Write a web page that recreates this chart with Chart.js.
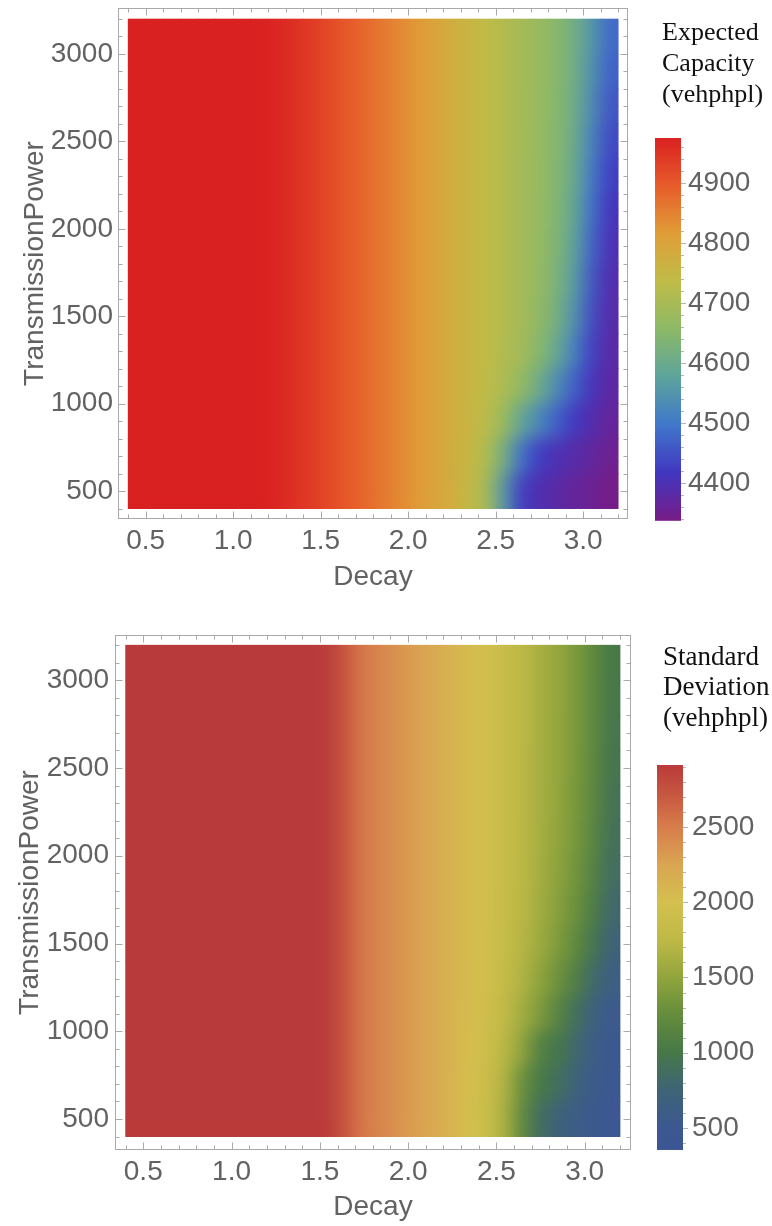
<!DOCTYPE html>
<html><head><meta charset="utf-8">
<script src="https://cdn.jsdelivr.net/npm/chart.js@4.4.1/dist/chart.umd.min.js"></script>
<style>
html,body{margin:0;padding:0;background:#fff;}
#wrap{position:relative;width:772px;height:1226px;background:#fff;}
canvas{position:absolute;left:0;}
#c1{top:0;width:772px;height:600px;}
#c2{top:600px;width:772px;height:626px;}
</style></head><body>
<div id="wrap"><canvas id="c1" width="772" height="600"></canvas><canvas id="c2" width="772" height="626"></canvas></div>
<script>
// ---------------- data ----------------
const decays = [0.45,0.55,0.65,0.75,0.85,0.95,1.05,1.15,1.25,1.35,1.45,1.55,1.65,1.75,1.85,1.95,2.05,2.15,2.25,2.35,2.45,2.55,2.65,2.75,2.85,2.95,3.05,3.15];
const powerEdges = [400,600,800,1000,1200,1400,1600,1800,2000,2200,2400,2600,2800,3000,3200];
const decayTicks = [0.5,1.0,1.5,2.0,2.5,3.0];
const powerTicks = [500,1000,1500,2000,2500,3000];
const capacityTicks = [4400,4500,4600,4700,4800,4900];
const sdTicks = [500,1000,1500,2000,2500];
const capacityRange = [4337,4975];
const sdRange = [354,2912];

// Expected capacity: decay 0.45..2.25 (same for every power row)
const capacityLeft = [4975,4975,4975,4975,4975,4975,4975,4975,4968,4955,4940,4920,4900,4882,4862,4842,4822,4800,4778];
// decay 2.35..3.15, one row per power band (400-600 first)
const capacityRight = [
  [4745,4695,4555,4425,4395,4380,4365,4355,4340],
  [4750,4712,4615,4490,4425,4400,4385,4370,4352],
  [4755,4728,4675,4585,4525,4470,4420,4390,4365],
  [4755,4735,4705,4665,4605,4535,4470,4410,4375],
  [4755,4735,4715,4690,4648,4595,4515,4430,4380],
  [4755,4735,4715,4695,4662,4620,4548,4445,4385],
  [4755,4735,4715,4695,4668,4630,4565,4460,4390],
  [4755,4735,4715,4695,4670,4636,4578,4475,4400],
  [4755,4735,4715,4695,4671,4640,4588,4490,4410],
  [4755,4735,4715,4695,4672,4644,4596,4505,4425],
  [4755,4735,4715,4695,4673,4646,4603,4520,4440],
  [4755,4735,4715,4695,4674,4648,4608,4535,4455],
  [4755,4735,4715,4695,4675,4650,4612,4545,4470],
  [4755,4735,4715,4695,4675,4650,4615,4555,4480]
];
// Standard deviation: decay 0.45..2.25
const sdLeft = [2912,2912,2912,2912,2912,2912,2912,2912,2912,2912,2912,2900,2700,2520,2440,2360,2280,2200,2120];
// decay 2.35..3.15
const sdRight = [
  [2000,1880,1640,1200,860,720,600,530,475],
  [2010,1900,1670,1270,1010,890,700,560,485],
  [2020,1920,1730,1480,1090,990,800,610,500],
  [2030,1940,1790,1590,1390,1150,900,680,540],
  [2035,1950,1825,1665,1485,1300,1090,820,620],
  [2040,1955,1845,1705,1560,1400,1220,960,720],
  [2040,1960,1855,1725,1590,1450,1290,1060,800],
  [2040,1960,1860,1735,1605,1480,1330,1120,860],
  [2040,1960,1860,1740,1612,1500,1355,1160,900],
  [2040,1960,1860,1740,1616,1510,1365,1185,930],
  [2040,1960,1860,1740,1618,1515,1372,1200,955],
  [2040,1960,1860,1740,1620,1518,1376,1210,975],
  [2040,1960,1860,1740,1620,1520,1378,1215,990],
  [2040,1960,1860,1740,1620,1520,1380,1220,1000]
];
const capacityRows = capacityRight.map(r => capacityLeft.concat(r));
const sdRows = sdRight.map(r => sdLeft.concat(r));

// ---------------- colour schemes ----------------
const rainbowStops = [[0,120,28,134],[0.125,65,54,192],[0.25,64,119,203],[0.375,92,163,156],[0.5,140,185,103],[0.625,191,188,71],[0.75,224,158,56],[0.875,231,92,42],[1,217,33,33]];
const darkRainbowStops = [[0,60,85,148],[0.06,60,88,145],[0.155,62,100,118],[0.2525,70,120,72],[0.35,100,140,60],[0.448,145,165,60],[0.546,190,185,70],[0.643,212,192,78],[0.741,218,165,82],[0.839,215,125,75],[0.92,200,88,65],[1,185,58,58]];

function stopColor(stops, t) {
  t = Math.max(0, Math.min(1, t));
  for (let i = 1; i < stops.length; i++) {
    if (t <= stops[i][0]) {
      const a = stops[i-1], b = stops[i], f = (t - a[0]) / (b[0] - a[0]);
      return 'rgb(' + [1,2,3].map(k => Math.round(a[k] + (b[k]-a[k])*f)).join(',') + ')';
    }
  }
  const s = stops[stops.length-1];
  return 'rgb(' + s[1] + ',' + s[2] + ',' + s[3] + ')';
}
function colorFor(stops, range, v) { return stopColor(stops, (v - range[0]) / (range[1] - range[0])); }

// ---------------- plugins ----------------
const TXT = '#626262';
const AX_FONT = {family: "'Liberation Sans', Arial, sans-serif", size: 28};

const smoothPlugin = {
  id: 'smooth',
  afterDatasetsDraw(chart, args, o) {
    if (!o || !o.blur) return;
    const {ctx, scales: {x, y}} = chart;
    const step = decays[1] - decays[0];
    const l = Math.round(x.getPixelForValue(decays[0] - step/2));
    const r = Math.round(x.getPixelForValue(decays[decays.length-1] + step/2));
    const t = Math.round(y.getPixelForValue(powerEdges[powerEdges.length-1]));
    const b = Math.round(y.getPixelForValue(powerEdges[0]));
    const w = r - l, h = b - t, p = o.blur * 3;
    const off = document.createElement('canvas'); off.width = w; off.height = h;
    off.getContext('2d').drawImage(chart.canvas, l, t, w, h, 0, 0, w, h);
    const pc = document.createElement('canvas'); pc.width = w + 2*p; pc.height = h + 2*p;
    const g = pc.getContext('2d'); g.imageSmoothingEnabled = false;
    g.drawImage(off, p, p);
    g.drawImage(off, 0, 0, 1, h, 0, p, p, h);
    g.drawImage(off, w-1, 0, 1, h, p+w, p, p, h);
    g.drawImage(pc, 0, p, w+2*p, 1, 0, 0, w+2*p, p);
    g.drawImage(pc, 0, p+h-1, w+2*p, 1, 0, p+h, w+2*p, p);
    ctx.save();
    ctx.beginPath(); ctx.rect(l, t, w, h); ctx.clip();
    ctx.filter = 'blur(' + o.blur + 'px)';
    ctx.drawImage(pc, l - p, t - p);
    ctx.restore();
  }
};

const framePlugin = {
  id: 'frame',
  afterDraw(chart, args, o) {
    const {ctx, chartArea: a, scales: {x, y, cb}} = chart;
    ctx.save();
    // frame
    ctx.strokeStyle = '#a9a9a9'; ctx.lineWidth = 1;
    const L = Math.round(a.left) + 0.5, R = Math.round(a.right) - 0.5, T = Math.round(a.top) + 0.5, B = Math.round(a.bottom) - 0.5;
    ctx.strokeRect(L, T, R - L, B - T);
    ctx.beginPath();
    for (let i = 4; i <= 32; i++) {
      const v = i / 10, major = i % 5 === 0, len = major ? 7 : 4;
      const px = Math.round(x.getPixelForValue(v)) + 0.5;
      ctx.moveTo(px, B); ctx.lineTo(px, B - len);
      ctx.moveTo(px, T); ctx.lineTo(px, T + len);
    }
    for (let v = 400; v <= 3200; v += 100) {
      const major = v % 500 === 0, len = major ? 7 : 4;
      const py = Math.round(y.getPixelForValue(v)) + 0.5;
      ctx.moveTo(L, py); ctx.lineTo(L + len, py);
      ctx.moveTo(R, py); ctx.lineTo(R - len, py);
    }
    ctx.stroke();
    // colour bar
    const yLo = cb.getPixelForValue(o.range[0]), yHi = cb.getPixelForValue(o.range[1]);
    const grad = ctx.createLinearGradient(0, yLo, 0, yHi);
    o.stops.forEach(s => grad.addColorStop(s[0], 'rgb(' + s[1] + ',' + s[2] + ',' + s[3] + ')'));
    ctx.fillStyle = grad;
    ctx.fillRect(o.cbX0, yHi, o.cbX1 - o.cbX0, yLo - yHi);
    ctx.beginPath(); ctx.strokeStyle = '#b5b5b5';
    const first = Math.ceil(o.range[0] / o.cbMinor) * o.cbMinor;
    for (let v = first; v <= o.range[1]; v += o.cbMinor) {
      const major = o.ticks.includes(v), len = major ? 5 : 3;
      const py = Math.round(cb.getPixelForValue(v)) + 0.5;
      ctx.moveTo(o.cbX1, py); ctx.lineTo(o.cbX1 + len, py);
    }
    ctx.stroke();
    // legend title
    ctx.fillStyle = '#111'; ctx.font = o.titleFont; ctx.textAlign = 'left'; ctx.textBaseline = 'alphabetic';
    o.title.forEach((s, i) => ctx.fillText(s, o.titleX, o.titleY[i]));
    ctx.restore();
  }
};

function zeroPad(s) { s.paddingTop = 0; s.paddingBottom = 0; s.paddingLeft = 0; s.paddingRight = 0; }

function buildChart(id, c) {
  const datasets = c.rows.map((row, i) => ({
    data: row.map((v, j) => ({x: decays[j], y: [powerEdges[i], powerEdges[i+1]]})),
    backgroundColor: row.map(v => colorFor(c.stops, c.range, v)),
    borderWidth: 0, grouped: false, categoryPercentage: 1, barPercentage: 1
  }));
  return new Chart(document.getElementById(id), {
    type: 'bar',
    data: {datasets},
    options: {
      responsive: false, animation: false,
      layout: {padding: {top: c.padTop, left: 0, right: 0, bottom: 0}},
      plugins: {
        legend: {display: false}, tooltip: {enabled: false},
        smooth: {blur: 9},
        frame: {range: c.range, stops: c.stops, ticks: c.cbTicks, cbMinor: c.cbMinor, cbX0: c.cbX0, cbX1: c.cbX1,
                title: c.title, titleX: c.titleX, titleY: c.titleY, titleFont: c.titleFont}
      },
      scales: {
        x: {type: 'linear', min: c.xMin, max: c.xMax, offset: false,
            grid: {display: false, drawTicks: false}, border: {display: false},
            ticks: {font: AX_FONT, color: TXT, padding: 5, maxRotation: 0, autoSkip: false, callback: v => Number(v).toFixed(1)},
            afterBuildTicks: s => { s.ticks = decayTicks.map(v => ({value: v})); },
            afterFit: s => { s.height = c.xAxisH; zeroPad(s); },
            title: {display: true, text: 'Decay', font: AX_FONT, color: TXT, padding: {top: 0, bottom: c.xTitlePad}}},
        y: {type: 'linear', min: c.yMin, max: c.yMax, beginAtZero: false,
            grid: {display: false, drawTicks: false}, border: {display: false},
            ticks: {font: AX_FONT, color: TXT, padding: c.yTickPad, autoSkip: false, callback: v => String(v)},
            afterBuildTicks: s => { s.ticks = powerTicks.map(v => ({value: v})); },
            afterFit: s => { s.width = c.yAxisW; zeroPad(s); },
            title: {display: true, text: 'TransmissionPower', font: AX_FONT, color: TXT, padding: {top: c.yTitlePad, bottom: 0}}},
        cb: {type: 'linear', axis: 'y', position: 'right', min: c.cbMin, max: c.cbMax,
            grid: {display: false, drawTicks: false}, border: {display: false},
            ticks: {font: AX_FONT, color: TXT, padding: c.cbPad, autoSkip: false, callback: v => String(v)},
            afterBuildTicks: s => { s.ticks = c.cbTicks.map(v => ({value: v})); },
            afterFit: s => { s.width = c.cbW; zeroPad(s); }}
      }
    },
    plugins: [smoothPlugin, framePlugin]
  });
}

buildChart('c1', {
  rows: capacityRows, stops: rainbowStops, range: capacityRange, cbTicks: capacityTicks, cbMinor: 20,
  padTop: 8, xMin: 0.342, xMax: 3.256, yMin: 340, yMax: 3263, xAxisH: 81, yAxisW: 118, cbW: 144,
  xTitlePad: 6, yTitlePad: 18, yTickPad: 5, cbMin: 4340, cbMax: 5191.7, cbPad: 60, cbX0: 655, cbX1: 681,
  title: ['Expected', 'Capacity', '(vehphpl)'], titleX: 662, titleY: [40, 70.5, 101.5],
  titleFont: "26px 'Liberation Serif', 'Times New Roman', serif"
});
buildChart('c2', {
  rows: sdRows, stops: darkRainbowStops, range: sdRange, cbTicks: sdTicks, cbMinor: 100,
  padTop: 35, xMin: 0.34, xMax: 3.262, yMin: 323.4, yMax: 3258, xAxisH: 76, yAxisW: 115, cbW: 141,
  xTitlePad: 2, yTitlePad: 13, yTickPad: 6, cbMin: 353.8, cbMax: 3775.7, cbPad: 61, cbX0: 657, cbX1: 683,
  title: ['Standard', 'Deviation', '(vehphpl)'], titleX: 663, titleY: [65, 95, 126],
  titleFont: "27px 'Liberation Serif', 'Times New Roman', serif"
});
</script>
</body></html>
